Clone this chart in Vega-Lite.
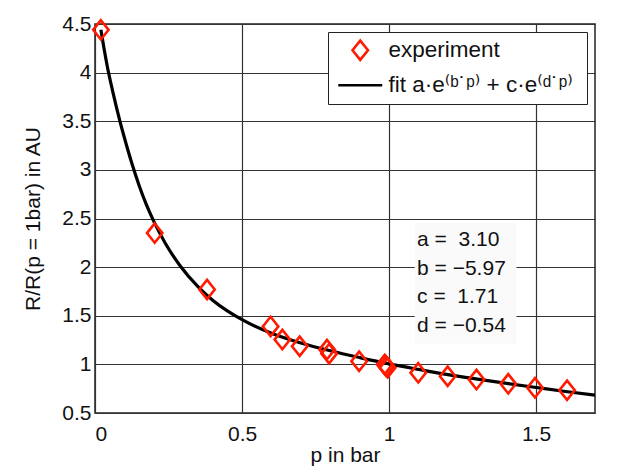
{
  "$schema": "https://vega.github.io/schema/vega-lite/v6.json",
  "autosize": "none",
  "width": 500,
  "height": 389,
  "padding": {"left": 95, "top": 24, "right": 22, "bottom": 53},
  "background": "white",
  "config": {
    "font": "Liberation Sans",
    "view": {"stroke": "#222", "strokeWidth": 1.5},
    "point": {"size": 372},
    "axis": {"labelFont": "Liberation Sans", "titleFont": "Liberation Sans", "labelColor": "#111", "titleColor": "#111", "labelFontSize": 21, "titleFontSize": 21, "titleFontWeight": "normal", "grid": true, "gridColor": "#333", "gridWidth": 1.2, "gridOpacity": 1, "domain": false, "ticks": false},
    "legend": {"title": null, "orient": "top-right", "offset": 8, "padding": 7, "strokeColor": "#222", "fillColor": "white", "labelFontSize": 22.5, "labelFont": "Liberation Sans, DejaVu Sans", "labelColor": "#111", "symbolSize": 372, "symbolStrokeWidth": 2.6, "symbolOffset": 14, "labelOffset": 17, "rowPadding": 8, "labelLimit": 400}
  },
  "datasets": {
    "exp": [
      {"p": 0.02, "r": 4.44, "series": "experiment"},
      {"p": 0.203, "r": 2.35, "series": "experiment"},
      {"p": 0.381, "r": 1.77, "series": "experiment"},
      {"p": 0.597, "r": 1.39, "series": "experiment"},
      {"p": 0.637, "r": 1.255, "series": "experiment"},
      {"p": 0.696, "r": 1.186, "series": "experiment"},
      {"p": 0.789, "r": 1.152, "series": "experiment"},
      {"p": 0.796, "r": 1.11, "series": "experiment"},
      {"p": 0.898, "r": 1.032, "series": "experiment"},
      {"p": 0.985, "r": 1.0, "series": "experiment"},
      {"p": 0.99, "r": 0.98, "series": "experiment"},
      {"p": 0.995, "r": 0.965, "series": "experiment"},
      {"p": 1.099, "r": 0.913, "series": "experiment"},
      {"p": 1.199, "r": 0.878, "series": "experiment"},
      {"p": 1.297, "r": 0.844, "series": "experiment"},
      {"p": 1.405, "r": 0.8, "series": "experiment"},
      {"p": 1.496, "r": 0.759, "series": "experiment"},
      {"p": 1.605, "r": 0.734, "series": "experiment"}
    ],
    "fit": [
      {"p": 0.02, "r": 4.44, "series": "fit"},
      {"p": 0.03, "r": 4.26, "series": "fit"},
      {"p": 0.042, "r": 4.06, "series": "fit"},
      {"p": 0.06, "r": 3.81, "series": "fit"},
      {"p": 0.084, "r": 3.51, "series": "fit"},
      {"p": 0.1, "r": 3.33, "series": "fit"},
      {"p": 0.126, "r": 3.06, "series": "fit"},
      {"p": 0.15, "r": 2.84, "series": "fit"},
      {"p": 0.175, "r": 2.64, "series": "fit"},
      {"p": 0.2, "r": 2.47, "series": "fit"},
      {"p": 0.24, "r": 2.24, "series": "fit"},
      {"p": 0.288, "r": 2.02, "series": "fit"},
      {"p": 0.35, "r": 1.8, "series": "fit"},
      {"p": 0.4, "r": 1.66, "series": "fit"},
      {"p": 0.45, "r": 1.55, "series": "fit"},
      {"p": 0.5, "r": 1.46, "series": "fit"},
      {"p": 0.6, "r": 1.32, "series": "fit"},
      {"p": 0.7, "r": 1.22, "series": "fit"},
      {"p": 0.8, "r": 1.14, "series": "fit"},
      {"p": 0.9, "r": 1.07, "series": "fit"},
      {"p": 1.0, "r": 1.005, "series": "fit"},
      {"p": 1.1, "r": 0.948, "series": "fit"},
      {"p": 1.2, "r": 0.894, "series": "fit"},
      {"p": 1.3, "r": 0.848, "series": "fit"},
      {"p": 1.4, "r": 0.804, "series": "fit"},
      {"p": 1.5, "r": 0.762, "series": "fit"},
      {"p": 1.6, "r": 0.721, "series": "fit"},
      {"p": 1.7, "r": 0.683, "series": "fit"}
    ]
  },
  "layer": [
    {
      "data": {"name": "fit"},
      "mark": {"type": "line", "strokeWidth": 3.2, "interpolate": "monotone", "clip": true},
      "encoding": {
        "x": {"field": "p", "type": "quantitative", "scale": {"domain": [0, 1.7], "nice": false, "zero": false}, "axis": {"values": [0, 0.5, 1, 1.5], "format": "~g", "labelPadding": 10, "title": "p in bar", "titlePadding": 0}},
        "y": {"field": "r", "type": "quantitative", "scale": {"domain": [0.5, 4.5], "nice": false, "zero": false}, "axis": {"values": [0.5, 1, 1.5, 2, 2.5, 3, 3.5, 4, 4.5], "format": "~g", "labelPadding": 4, "title": "R/R(p = 1bar) in AU", "titlePadding": 18}},
        "color": {"field": "series", "type": "nominal", "scale": {"domain": ["experiment", "fit"], "range": ["#ff1a00", "black"]}}
      }
    },
    {
      "data": {"values": [{"box": "params"}]},
      "mark": {"type": "rect", "color": "#fafafa"},
      "encoding": {"x": {"datum": 1.087, "type": "quantitative"}, "x2": {"datum": 1.433}, "y": {"datum": 1.213, "type": "quantitative"}, "y2": {"datum": 2.456}}
    },
    {
      "data": {"values": [{"box": "params"}]},
      "mark": {"type": "text", "text": ["a =\u00a0\u00a03.10", "b = −5.97", "c =\u00a0\u00a01.71", "d = −0.54"], "align": "left", "baseline": "middle", "lineHeight": 28.5, "fontSize": 21, "font": "Liberation Sans", "color": "#111"},
      "encoding": {"x": {"datum": 1.095, "type": "quantitative"}, "y": {"datum": 2.274, "type": "quantitative"}}
    },
    {
      "data": {"name": "exp"},
      "mark": {"type": "point", "filled": false, "strokeWidth": 2.6, "opacity": 1},
      "encoding": {
        "x": {"field": "p", "type": "quantitative"},
        "y": {"field": "r", "type": "quantitative"},
        "color": {"field": "series", "type": "nominal", "legend": {"labelExpr": "datum.label == 'fit' ? 'fit  a·e⁽ᵇ˙ᵖ⁾ + c·e⁽ᵈ˙ᵖ⁾' : datum.label", "encode": {"symbols": {"update": {"strokeWidth": {"signal": "datum.value == 'fit' ? 4.5 : 2.6"}}}}}},
        "shape": {"field": "series", "type": "nominal", "scale": {"domain": ["experiment", "fit"], "range": ["M0,-1L0.8,0L0,1L-0.8,0Z", "M-2.28,0L2.28,0"]}, "legend": {"labelExpr": "datum.label == 'fit' ? 'fit  a·e⁽ᵇ˙ᵖ⁾ + c·e⁽ᵈ˙ᵖ⁾' : datum.label", "encode": {"symbols": {"update": {"strokeWidth": {"signal": "datum.value == 'fit' ? 4.5 : 2.6"}}}}}}
      }
    }
  ]
}
